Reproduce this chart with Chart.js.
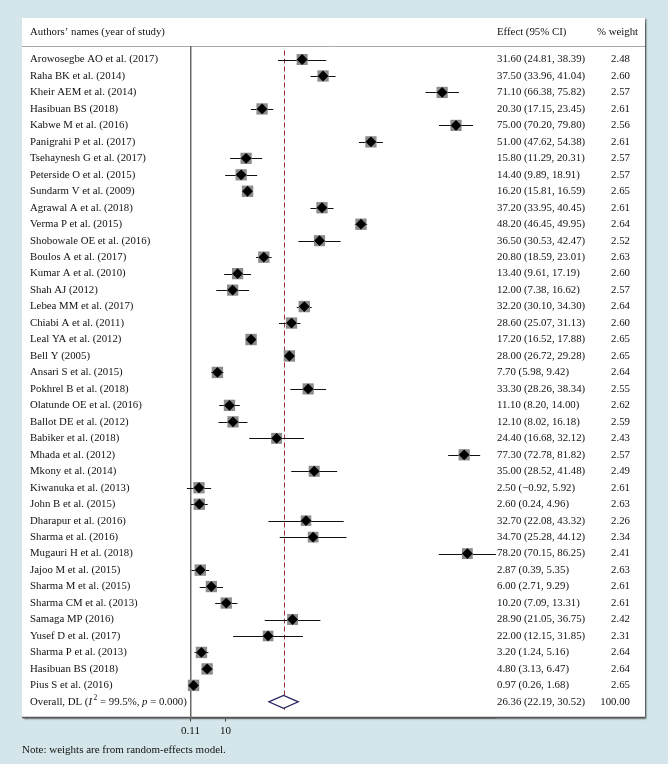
<!DOCTYPE html>
<html>
<head>
<meta charset="utf-8">
<script src="https://cdn.jsdelivr.net/npm/chart.js@4.4.1/dist/chart.umd.min.js"></script>
<style>
  body { margin: 0; background: #d4e6e9; }
  canvas { display: block; }
</style>
</head>
<body>
<canvas id="forestChart" width="668" height="764"></canvas>
<script>
// Study data
const studies = [
    "Arowosegbe AO et al. (2017)", "Raha BK et al. (2014)", "Kheir AEM et al. (2014)",
    "Hasibuan BS (2018)", "Kabwe M et al. (2016)", "Panigrahi P et al. (2017)",
    "Tsehaynesh G et al. (2017)", "Peterside O et al. (2015)", "Sundarm V et al. (2009)",
    "Agrawal A et al. (2018)", "Verma P et al. (2015)", "Shobowale OE et al. (2016)",
    "Boulos A et al. (2017)", "Kumar A et al. (2010)", "Shah AJ (2012)",
    "Lebea MM et al. (2017)", "Chiabi A et al. (2011)", "Leal YA et al. (2012)",
    "Bell Y (2005)", "Ansari S et al. (2015)", "Pokhrel B et al. (2018)",
    "Olatunde OE et al. (2016)", "Ballot DE et al. (2012)", "Babiker et al. (2018)",
    "Mhada et al. (2012)", "Mkony et al. (2014)", "Kiwanuka et al. (2013)",
    "John B et al. (2015)", "Dharapur et al. (2016)", "Sharma et al. (2016)",
    "Mugauri H et al. (2018)", "Jajoo M et al. (2015)", "Sharma M et al. (2015)",
    "Sharma CM et al. (2013)", "Samaga MP (2016)", "Yusef D et al. (2017)",
    "Sharma P et al. (2013)", "Hasibuan BS (2018)", "Pius S et al. (2016)"
];
const effects = [31.60, 37.50, 71.10, 20.30, 75.00, 51.00, 15.80, 14.40, 16.20, 37.20,
    48.20, 36.50, 20.80, 13.40, 12.00, 32.20, 28.60, 17.20, 28.00, 7.70,
    33.30, 11.10, 12.10, 24.40, 77.30, 35.00, 2.50, 2.60, 32.70, 34.70,
    78.20, 2.87, 6.00, 10.20, 28.90, 22.00, 3.20, 4.80, 0.97];
const ciLow = [24.81, 33.96, 66.38, 17.15, 70.20, 47.62, 11.29, 9.89, 15.81, 33.95,
    46.45, 30.53, 18.59, 9.61, 7.38, 30.10, 25.07, 16.52, 26.72, 5.98,
    28.26, 8.20, 8.02, 16.68, 72.78, 28.52, -0.92, 0.24, 22.08, 25.28,
    70.15, 0.39, 2.71, 7.09, 21.05, 12.15, 1.24, 3.13, 0.26];
const ciHigh = [38.39, 41.04, 75.82, 23.45, 79.80, 54.38, 20.31, 18.91, 16.59, 40.45,
    49.95, 42.47, 23.01, 17.19, 16.62, 34.30, 31.13, 17.88, 29.28, 9.42,
    38.34, 14.00, 16.18, 32.12, 81.82, 41.48, 5.92, 4.96, 43.32, 44.12,
    86.25, 5.35, 9.29, 13.31, 36.75, 31.85, 5.16, 6.47, 1.68];
const weights = [2.48, 2.60, 2.57, 2.61, 2.56, 2.61, 2.57, 2.57, 2.65, 2.61,
    2.64, 2.52, 2.63, 2.60, 2.57, 2.64, 2.60, 2.65, 2.65, 2.64,
    2.55, 2.62, 2.59, 2.43, 2.57, 2.49, 2.61, 2.63, 2.26, 2.34,
    2.41, 2.63, 2.61, 2.61, 2.42, 2.31, 2.64, 2.64, 2.65];

// Pooled estimate (DerSimonian-Laird)
const overallEffect = 26.36;
const overallLow = 22.19;
const overallHigh = 30.52;
const overallWeight = 100.00;

const tickValues = [0.11, 10];

const SERIF = "'Liberation Serif', 'DejaVu Serif', serif";
const SIZE = 10.8;
const FONT = SIZE + "px " + SERIF;

function fmt(v) {
    return v.toFixed(2).replace("-", "\u2212");
}

const forestPlugin = {
    id: "forestPlot",
    beforeDraw(chart) {
        const ctx = chart.ctx;
        const area = chart.chartArea;
        ctx.save();
        ctx.fillStyle = "#d4e6e9";
        ctx.fillRect(0, 0, chart.width, chart.height);

        // white panel with a soft shadow
        ctx.shadowColor = "rgba(40, 40, 40, 0.7)";
        ctx.shadowOffsetX = 1.5;
        ctx.shadowOffsetY = 1;
        ctx.shadowBlur = 1.5;
        ctx.fillStyle = "#ffffff";
        ctx.fillRect(22, 18, 623, area.bottom - 18);
        ctx.restore();

        ctx.save();
        ctx.strokeStyle = "#a8a8a8";
        ctx.lineWidth = 1;
        ctx.beginPath();
        ctx.moveTo(22, area.top);
        ctx.lineTo(645, area.top);
        ctx.stroke();

        // panel bottom rule
        ctx.strokeStyle = "#555555";
        ctx.lineWidth = 1.5;
        ctx.beginPath();
        ctx.moveTo(22, area.bottom);
        ctx.lineTo(645, area.bottom);
        ctx.stroke();

        ctx.fillStyle = "#111111";
        ctx.font = FONT;
        ctx.textBaseline = "middle";
        ctx.fillText("Authors\u2019 names (year of study)", 30, 32);
        ctx.fillText("Effect (95% CI)", 497, 32);
        ctx.fillText("% weight", 597, 32);
        ctx.restore();
    },
    beforeDatasetsDraw(chart) {
        const ctx = chart.ctx;
        const x = chart.scales.x;
        const y = chart.scales.y;
        ctx.save();

        // reference line at the pooled estimate
        ctx.strokeStyle = "#9a2f3c";
        ctx.lineWidth = 1;
        ctx.setLineDash([5, 3]);
        ctx.beginPath();
        const xo = Math.round(x.getPixelForValue(overallEffect)) + 0.5;
        ctx.moveTo(xo, chart.chartArea.top + 4);
        ctx.lineTo(xo, y.getPixelForValue(studies.length) + 8);
        ctx.stroke();
        ctx.setLineDash([]);

        // confidence intervals
        ctx.strokeStyle = "#111111";
        studies.forEach((s, i) => {
            const py = Math.round(y.getPixelForValue(i)) + 0.5;
            ctx.beginPath();
            ctx.moveTo(x.getPixelForValue(ciLow[i]), py);
            ctx.lineTo(x.getPixelForValue(ciHigh[i]), py);
            ctx.stroke();
        });
        ctx.restore();
    },
    afterDatasetsDraw(chart) {
        const ctx = chart.ctx;
        const x = chart.scales.x;
        const y = chart.scales.y;
        ctx.save();

        // pooled diamond
        const oy = y.getPixelForValue(studies.length);
        const xc = x.getPixelForValue(overallEffect);
        ctx.fillStyle = "#ffffff";
        ctx.strokeStyle = "#23235f";
        ctx.lineWidth = 1.2;
        ctx.beginPath();
        ctx.moveTo(x.getPixelForValue(overallLow), oy);
        ctx.lineTo(xc, oy - 6.5);
        ctx.lineTo(x.getPixelForValue(overallHigh), oy);
        ctx.lineTo(xc, oy + 6.5);
        ctx.closePath();
        ctx.fill();
        ctx.stroke();

        // table text
        ctx.fillStyle = "#111111";
        ctx.font = FONT;
        ctx.textBaseline = "middle";
        studies.forEach((s, i) => {
            const py = y.getPixelForValue(i);
            ctx.textAlign = "left";
            ctx.fillText(s, 30, py);
            ctx.fillText(fmt(effects[i]) + " (" + fmt(ciLow[i]) + ", " + fmt(ciHigh[i]) + ")", 497, py);
            ctx.textAlign = "right";
            ctx.fillText(weights[i].toFixed(2), 630, py);
        });

        // overall row, with italic symbols
        ctx.textAlign = "left";
        let cx = 30;
        const parts = [
            ["Overall, DL (", FONT, 0],
            ["I", "italic " + SIZE + "px " + SERIF, 0],
            ["2", "7.5px " + SERIF, -4],
            [" = 99.5%, ", FONT, 0],
            ["p", "italic " + SIZE + "px " + SERIF, 0],
            [" = 0.000)", FONT, 0]
        ];
        parts.forEach(p => {
            ctx.font = p[1];
            ctx.fillText(p[0], cx, oy + p[2]);
            cx += ctx.measureText(p[0]).width + (p[0] === "I" ? 1.5 : 0);
        });
        ctx.font = FONT;
        ctx.fillText(fmt(overallEffect) + " (" + fmt(overallLow) + ", " + fmt(overallHigh) + ")", 497, oy);
        ctx.textAlign = "right";
        ctx.fillText(overallWeight.toFixed(2), 630, oy);

        ctx.textAlign = "left";
        ctx.font = "11px " + SERIF;
        ctx.fillText("Note: weights are from random-effects model.", 22, 750);
        ctx.restore();
    }
};

const rows = studies.map((s, i) => ({ x: effects[i], y: i }));

new Chart(document.getElementById("forestChart").getContext("2d"), {
    type: "scatter",
    data: {
        datasets: [
            {
                label: "Estimate",
                data: rows,
                pointStyle: "rectRot",
                pointRadius: 5.4,
                backgroundColor: "#000000",
                borderWidth: 0,
                order: 0,
                clip: false,
            },
            {
                label: "Weight",
                data: rows,
                pointStyle: "rect",
                pointRadius: ctx => 7.0 * Math.sqrt(weights[ctx.dataIndex]) / Math.SQRT2,
                backgroundColor: "#8c8c8c",
                borderWidth: 0,
                order: 1,
                clip: false,
            },
        ],
    },
    options: {
        responsive: false,
        animation: false,
        events: [],
        layout: {
            padding: { left: 190.5, right: 173, top: 46.5, bottom: 16.5 },
        },
        plugins: {
            legend: { display: false },
            tooltip: { enabled: false },
        },
        scales: {
            x: {
                type: "linear",
                min: 0.11,
                max: 86,
                afterBuildTicks: scale => {
                    scale.ticks = tickValues.map(v => ({ value: v }));
                },
                afterFit: scale => { scale.height = 30; },
                ticks: {
                    color: "#111111",
                    font: { family: SERIF, size: 11 },
                    padding: 3,
                    maxRotation: 0,
                    callback: v => String(v),
                },
                grid: {
                    drawOnChartArea: false,
                    drawTicks: true,
                    tickLength: 4,
                    color: "#444444",
                },
                border: { color: "#555555", width: 1.5 },
            },
            y: {
                type: "linear",
                reverse: true,
                min: -0.79,
                max: 39.95,
                afterFit: scale => { scale.width = 0; },
                ticks: { display: false },
                grid: { display: false, drawTicks: false },
                border: { color: "#6a6a6a", width: 1.5 },
            },
        },
    },
    plugins: [forestPlugin],
});
</script>
</body>
</html>
